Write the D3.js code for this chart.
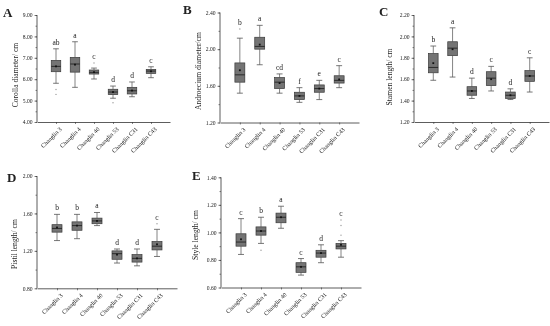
<!DOCTYPE html>
<html><head><meta charset="utf-8">
<script src="https://cdn.jsdelivr.net/npm/d3@7"></script>
<style>
body{margin:0;background:#fff;}
#wrap{will-change:transform;transform:translateZ(0);}
svg{-webkit-font-smoothing:antialiased;}
text{font-family:"Liberation Serif","Times New Roman",serif;fill:#222;}
</style></head><body>
<div id="wrap"><svg id="chart" width="550" height="326"></svg></div>
<script>
// ---- data ----
const categories = ["Changlin 3","Changlin 4","Changlin 40","Changlin 53","Changlin C31","Changlin C43"];

// each row: [whisker low, Q1, median, Q3, whisker high]
const corollaStats = [[5.81,6.35,6.60,6.88,7.42],[5.62,6.33,6.71,7.02,7.75],[6.01,6.24,6.32,6.43,6.52],[5.11,5.28,5.40,5.53,5.68],[5.18,5.31,5.46,5.62,5.87],[6.07,6.27,6.38,6.46,6.58]];
const corollaMeans = [6.60,6.68,6.33,5.40,5.47,6.37];
const corollaOutliers = [[5.52,5.29],[],[6.76],[4.90],[],[]];
const corollaLetters = ["ab","a","c","d","d","c"];

const androeciumStats = [[1.52,1.64,1.72,1.85,2.12],[1.83,2.00,2.03,2.13,2.26],[1.52,1.57,1.64,1.69,1.73],[1.42,1.45,1.49,1.53,1.58],[1.45,1.53,1.57,1.61,1.66],[1.58,1.63,1.66,1.71,1.82]];
const androeciumMeans = [1.77,2.05,1.63,1.49,1.57,1.67];
const androeciumOutliers = [[2.22],[],[],[],[],[]];
const androeciumLetters = ["b","a","cd","f","e","c"];

const stamenStats = [[1.59,1.66,1.71,1.84,1.91],[1.62,1.82,1.89,1.95,2.08],[1.42,1.45,1.49,1.53,1.61],[1.49,1.54,1.61,1.67,1.72],[1.41,1.42,1.45,1.48,1.51],[1.48,1.58,1.63,1.68,1.80]];
const stamenMeans = [1.75,1.88,1.49,1.60,1.45,1.63];
const stamenOutliers = [[],[],[],[],[],[]];
const stamenLetters = ["b","a","d","c","d","c"];

const pistilStats = [[1.31,1.40,1.44,1.48,1.59],[1.33,1.42,1.47,1.51,1.59],[1.47,1.49,1.52,1.55,1.61],[1.07,1.11,1.17,1.20,1.22],[1.04,1.08,1.12,1.16,1.22],[1.14,1.21,1.25,1.30,1.43]];
const pistilMeans = [1.45,1.47,1.52,1.16,1.12,1.27];
const pistilOutliers = [[],[],[],[],[],[1.49]];
const pistilLetters = ["b","b","a","d","d","c"];

const styleStats = [[0.84,0.90,0.93,0.99,1.10],[0.92,0.98,1.01,1.04,1.11],[1.03,1.07,1.11,1.14,1.19],[0.69,0.71,0.75,0.78,0.81],[0.78,0.82,0.85,0.87,0.91],[0.82,0.88,0.90,0.92,0.94]];
const styleMeans = [0.95,1.01,1.11,0.75,0.85,0.91];
const styleOutliers = [[],[0.87],[],[],[],[1.09,1.05,0.98]];
const styleLetters = ["c","b","a","c","d","c"];

const yTicksA = [4,5,6,7,8,9];
const yTicksB = [1.2,1.6,2.0,2.4];
const yTicksC = [1.2,1.4,1.6,1.8,2.0,2.2];
const yTicksD = [0.8,1.2,1.6,2.0];
const yTicksE = [0.6,0.8,1.0,1.2,1.4];

// ---- layout ----
const panels = [
 {letter:"A", title:"Corolla diameter/ cm", stats:corollaStats, means:corollaMeans, outliers:corollaOutliers, letters:corollaLetters, ticks:yTicksA,
  x0:37, x1:170, yTop:15, yBot:122, lx:3, ly:17, tx:15, ty:75},
 {letter:"B", title:"Androecium diameter/cm", stats:androeciumStats, means:androeciumMeans, outliers:androeciumOutliers, letters:androeciumLetters, ticks:yTicksB,
  x0:220, x1:359, yTop:12.5, yBot:122.5, lx:183, ly:14, tx:198, ty:71},
 {letter:"C", title:"Stamen length/ cm", stats:stamenStats, means:stamenMeans, outliers:stamenOutliers, letters:stamenLetters, ticks:yTicksC,
  x0:414, x1:549, yTop:15, yBot:122, lx:379, ly:16, tx:389, ty:77},
 {letter:"D", title:"Pistil length/ cm", stats:pistilStats, means:pistilMeans, outliers:pistilOutliers, letters:pistilLetters, ticks:yTicksD,
  x0:37, x1:177, yTop:176, yBot:288.3, lx:7, ly:182, tx:14, ty:244},
 {letter:"E", title:"Style length/ cm", stats:styleStats, means:styleMeans, outliers:styleOutliers, letters:styleLetters, ticks:yTicksE,
  x0:221, x1:361, yTop:177.3, yBot:287.5, lx:192, ly:180, tx:195, ty:235}
];

const svg = d3.select("#chart");

panels.forEach(p => {
  const g = svg.append("g");
  const dom = [p.ticks[0], p.ticks[p.ticks.length-1]];
  const y = d3.scaleLinear().domain(dom).range([p.yBot, p.yTop]);
  const x = d3.scalePoint().domain(categories).range([p.x0, p.x1]).padding(1);
  const step = x.step();
  const bw = step * 0.5;

  const minorStep = (p.ticks[1]-p.ticks[0])/2;
  const minor = d3.range(dom[0], dom[1]+1e-9, minorStep);
  const yAxisMinor = d3.axisLeft(y).tickValues(minor).tickSize(1.5).tickFormat("");
  g.append("g").attr("transform",`translate(${p.x0},0)`).call(yAxisMinor)
   .call(s=>s.select(".domain").remove())
   .call(s=>s.selectAll("line").attr("stroke","#333").attr("stroke-width",0.6));

  const yAxis = d3.axisLeft(y).tickValues(p.ticks).tickSize(2.5).tickPadding(2).tickFormat(d3.format(".2f"));
  g.append("g").attr("transform",`translate(${p.x0},0)`).call(yAxis)
   .call(s=>s.select(".domain").attr("stroke","#333").attr("stroke-width",0.8).attr("d",`M0,${p.yBot}V${p.yTop}`))
   .call(s=>s.selectAll("line").attr("stroke","#333").attr("stroke-width",0.6))
   .call(s=>s.selectAll("text").attr("font-size",5.6).attr("font-family","Liberation Serif").attr("fill","#333"));

  const xAxis = d3.axisBottom(x).tickSize(2).tickSizeOuter(0).tickPadding(3);
  const xg = g.append("g").attr("transform",`translate(0,${p.yBot})`).call(xAxis);
  xg.select(".domain").attr("stroke","#333").attr("stroke-width",0.8);
  xg.selectAll("line").attr("stroke","#333").attr("stroke-width",0.6);
  xg.selectAll("text").attr("font-size",6).attr("font-family","Liberation Serif").attr("fill","#333")
    .attr("text-anchor","end").attr("dy",0)
    .attr("transform","translate(2,4) rotate(-45)");

  categories.forEach((c,i) => {
    const s = p.stats[i];
    const cx = x(c);
    const bg = g.append("g");
    bg.append("line").attr("x1",cx).attr("x2",cx).attr("y1",y(s[0])).attr("y2",y(s[1])).attr("stroke","#666").attr("stroke-width",0.8);
    bg.append("line").attr("x1",cx).attr("x2",cx).attr("y1",y(s[3])).attr("y2",y(s[4])).attr("stroke","#666").attr("stroke-width",0.8);
    [s[0],s[4]].forEach(v=>bg.append("line").attr("x1",cx-bw*0.3).attr("x2",cx+bw*0.3).attr("y1",y(v)).attr("y2",y(v)).attr("stroke","#555").attr("stroke-width",0.8));
    bg.append("rect").attr("x",cx-bw/2).attr("width",bw).attr("y",y(s[3])).attr("height",y(s[1])-y(s[3]))
      .attr("fill","#747474").attr("stroke","#3a3a3a").attr("stroke-width",0.7);
    bg.append("line").attr("x1",cx-bw/2).attr("x2",cx+bw/2).attr("y1",y(s[2])).attr("y2",y(s[2])).attr("stroke","#222").attr("stroke-width",0.9);
    bg.append("rect").attr("x",cx-0.9).attr("y",y(p.means[i])-0.9).attr("width",1.8).attr("height",1.8).attr("fill","#111");
    p.outliers[i].forEach(v=>bg.append("circle").attr("cx",cx).attr("cy",y(v)).attr("r",0.7).attr("fill","#999"));
    const top = Math.max(s[4], ...p.outliers[i]);
    bg.append("text").attr("x",cx).attr("y",y(top)-4).attr("text-anchor","middle").attr("font-size",7.5).attr("fill","#222").text(p.letters[i]);
  });

  g.append("text").attr("transform",`translate(${p.tx},${p.ty}) rotate(-90)`).attr("text-anchor","middle")
   .attr("dy","0.35em").attr("font-size",7.6).attr("fill","#222").text(p.title);
  g.append("text").attr("x",p.lx).attr("y",p.ly).attr("font-size",13).attr("font-weight","bold").attr("fill","#111").text(p.letter);
});
</script></body></html>
